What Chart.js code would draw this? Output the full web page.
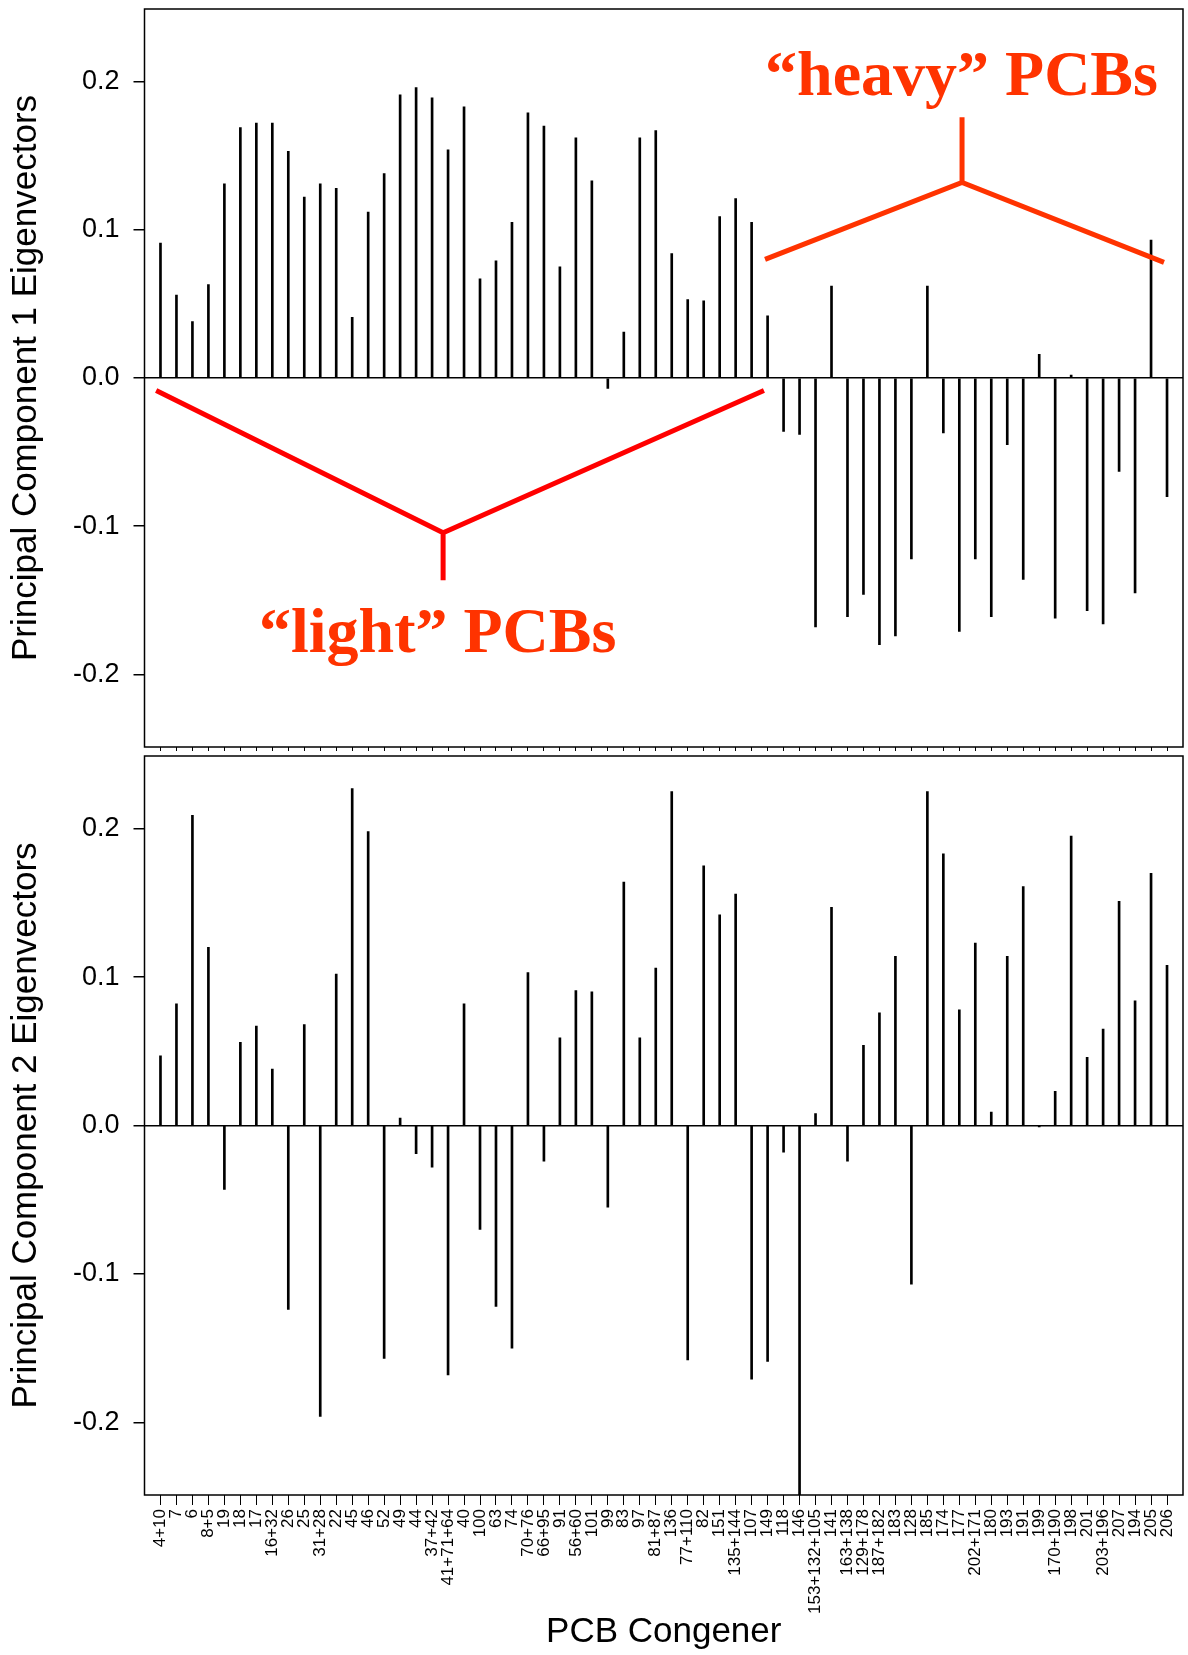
<!DOCTYPE html>
<html>
<head>
<meta charset="utf-8">
<script src="https://cdn.jsdelivr.net/npm/chart.js@4.4.0/dist/chart.umd.min.js"></script>
<style>
  body { margin: 0; background: #fff; }
  #wrap { position: relative; width: 1188px; height: 1655px; }
  canvas { position: absolute; left: 0; }
  #pc1 { top: 0; }
  #pc2 { top: 752px; }
</style>
</head>
<body>
<div id="wrap">
  <canvas id="pc1" width="1188" height="752"></canvas>
  <canvas id="pc2" width="1188" height="903"></canvas>
</div>
<script>
const congeners = ['4+10', '7', '6', '8+5', '19', '18', '17', '16+32', '26', '25', '31+28', '22', '45', '46', '52', '49',
    '44', '37+42', '41+71+64', '40', '100', '63', '74', '70+76', '66+95', '91', '56+60', '101', '99', '83', '97', '81+87',
    '136', '77+110', '82', '151', '135+144', '107', '149', '118', '146', '153+132+105', '141', '163+138', '129+178', '187+182',
    '183', '128', '185', '174', '177', '202+171', '180', '193', '191', '199', '170+190', '198', '201', '203+196', '207', '194',
    '205', '206']

// PC1 loadings, one per congener
const pc1 = [0.091, 0.056, 0.038, 0.063, 0.131, 0.169, 0.172, 0.172, 0.153, 0.122, 0.131, 0.128, 0.041, 0.112, 0.138, 0.191,
    0.196, 0.189, 0.154, 0.183, 0.067, 0.079, 0.105, 0.179, 0.170, 0.075, 0.162, 0.133, -0.007, 0.031, 0.162, 0.167,
    0.084, 0.053, 0.052, 0.109, 0.121, 0.105, 0.042, -0.036, -0.038, -0.168, 0.062, -0.161, -0.146, -0.180,
    -0.174, -0.122, 0.062, -0.037, -0.171, -0.122, -0.161, -0.045, -0.136, 0.016, -0.162, 0.002, -0.157, -0.166, -0.063, -0.145,
    0.093, -0.080]

// PC2 loadings
const pc2 = [0.047, 0.082, 0.209, 0.120, -0.043, 0.056, 0.067, 0.038, -0.124, 0.068, -0.196, 0.102, 0.227, 0.198, -0.157, 0.005,
    -0.019, -0.028, -0.168, 0.082, -0.070, -0.122, -0.150, 0.103, -0.024, 0.059, 0.091, 0.090, -0.055, 0.164, 0.059, 0.106,
    0.225, -0.158, 0.175, 0.142, 0.156, -0.171, -0.159, -0.018, -0.252, 0.008, 0.147, -0.024, 0.054, 0.076,
    0.114, -0.107, 0.225, 0.183, 0.078, 0.123, 0.009, 0.114, 0.161, -0.001, 0.023, 0.195, 0.046, 0.065, 0.151, 0.084,
    0.170, 0.108]

const yTicks = [-0.2, -0.1, 0.0, 0.1, 0.2]
const yTitles = ['Principal Component 1 Eigenvectors', 'Principal Component 2 Eigenvectors']
const xTitle = 'PCB Congener'
const groupLabels = ['\u201clight\u201d PCBs', '\u201cheavy\u201d PCBs']

const SANS = "'Liberation Sans', Arial, Helvetica, sans-serif"
const SERIF = "'Liberation Serif', 'Times New Roman', serif"

// box round the plot region
const frame = {
    id: 'frame',
    afterDraw(chart) {
        let a = chart.chartArea
        let ctx = chart.ctx
        ctx.save()
        ctx.strokeStyle = '#000'
        ctx.lineWidth = 1.5
        ctx.strokeRect(a.left, a.top, a.right - a.left, a.bottom - a.top)
        ctx.restore()
    }
}

// the two brackets with their labels, placed in data units of the top panel
const brackets = {
    id: 'brackets',
    afterDraw(chart) {
        let xs = chart.scales.x
        let ys = chart.scales.y
        let ctx = chart.ctx
        let px = p => [xs.getPixelForValue(p[0]), ys.getPixelForValue(p[1])]

        function bracket(left, apex, right, stemEnd, color) {
            ctx.save()
            ctx.strokeStyle = color
            ctx.lineWidth = 5
            ctx.beginPath()
            ctx.moveTo(...px(left))
            ctx.lineTo(...px(apex))
            ctx.lineTo(...px(right))
            ctx.moveTo(...px(apex))
            ctx.lineTo(...px(stemEnd))
            ctx.stroke()
            ctx.restore()
        }

        function label(text, at) {
            ctx.save()
            ctx.fillStyle = '#ff3300'
            ctx.font = 'bold 64px ' + SERIF
            ctx.textAlign = 'left'
            ctx.textBaseline = 'alphabetic'
            ctx.fillText(text, ...px(at))
            ctx.restore()
        }

        bracket([0.73, -0.0084], [18.69, -0.1044], [38.77, -0.0084], [18.69, -0.1364], '#ff0000')
        label(groupLabels[0], [7.17, -0.185])
        bracket([38.84, 0.080], [51.17, 0.132], [63.81, 0.078], [51.17, 0.176], '#ff3300')
        label(groupLabels[1], [38.84, 0.1912])
    }
}

function make_panel(id, values, yTitle, isBottom) {
    let ctx = document.getElementById(id).getContext('2d')
    return new Chart(ctx, {
        type: 'bar',
        data: {
            datasets: [{
                data: values.map((v, i) => ({ x: i + 1, y: v })),
                backgroundColor: '#000',
                borderWidth: 0,
                barThickness: 2
            }]
        },
        options: {
            responsive: false,
            animation: false,
            events: [],
            layout: { padding: { top: isBottom ? 4 : 9, right: 5, left: 0, bottom: 0 } },
            plugins: {
                legend: { display: false },
                tooltip: { enabled: false }
            },
            scales: {
                x: {
                    type: 'linear',
                    offset: false,
                    min: 0,
                    max: congeners.length + 1,
                    afterBuildTicks: s => { s.ticks = congeners.map((c, i) => ({ value: i + 1 })) },
                    afterFit: s => {
                        s.height = isBottom ? 160 : 5
                        s.paddingLeft = 0
                        s.paddingRight = 0
                    },
                    grid: { offset: false, drawOnChartArea: false, color: '#000', tickLength: isBottom ? 10 : 4, lineWidth: 1 },
                    border: { display: false },
                    ticks: {
                        display: isBottom,
                        autoSkip: false,
                        maxRotation: 90,
                        minRotation: 90,
                        padding: 4,
                        color: '#000',
                        font: { family: SANS, size: 17 },
                        callback: (v, i) => congeners[i]
                    },
                    title: {
                        display: isBottom,
                        text: xTitle,
                        color: '#000',
                        font: { family: SANS, size: 35 },
                        padding: { top: 0, bottom: 2 }
                    }
                },
                y: {
                    min: -0.249,
                    max: 0.249,
                    afterBuildTicks: s => { s.ticks = yTicks.map(v => ({ value: v })) },
                    afterFit: s => {
                        s.width = 144.5
                        // the labels never sit at the ends, so no extra room above or below
                        s.paddingTop = 0
                        s.paddingBottom = 0
                    },
                    grid: {
                        color: c => (c.tick && c.tick.value === 0) ? '#000' : 'rgba(0,0,0,0)',
                        tickColor: '#000',
                        tickLength: 11,
                        lineWidth: 1.5
                    },
                    border: { display: false },
                    ticks: {
                        padding: 14,
                        color: '#000',
                        font: { family: SANS, size: 27 },
                        callback: v => v.toFixed(1)
                    },
                    title: {
                        display: true,
                        text: yTitle,
                        color: '#000',
                        font: { family: SANS, size: 35 },
                        padding: { top: 5, bottom: 0 }
                    }
                }
            }
        },
        plugins: isBottom ? [frame] : [frame, brackets]
    })
}

make_panel('pc1', pc1, yTitles[0], false)
make_panel('pc2', pc2, yTitles[1], true)
</script>
</body>
</html>
